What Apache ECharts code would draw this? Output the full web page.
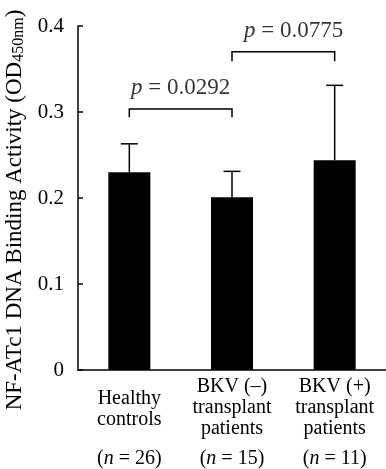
<!DOCTYPE html>
<html>
<head>
<meta charset="utf-8">
<script src="https://cdn.jsdelivr.net/npm/echarts@6/dist/echarts.min.js"></script>
<style>
  html, body { margin: 0; padding: 0; background: #fff; }
  #chart { width: 386px; height: 469px; }
</style>
</head>
<body>
<div id="chart"></div>
<script>
var categories = ['Healthy\ncontrols', 'BKV (\u2013)\ntransplant\npatients', 'BKV (+)\ntransplant\npatients'];
var groupSizes = ['26', '15', '11'];
var means = [0.230, 0.201, 0.244];
var errors = [0.033, 0.030, 0.087];
var yTicks = [0, 0.1, 0.2, 0.3, 0.4];

// significance brackets (category index from / to, bar height, leg end)
var bracketFrom = [0, 1];
var bracketTo = [1, 2];
var bracketTop = [0.3035, 0.370];
var bracketLeg = [0.294, 0.359];
var pValues = ['0.0292', '0.0775'];
var pLabelX = [0.5, 1.6];
var pLabelY = [0.328, 0.394];

var serif = '"Liberation Serif", "Times New Roman", "DejaVu Serif", serif';

function drawChart() {
    var chart = echarts.init(document.getElementById('chart'));

    var errData = means.map(function (m, i) { return [i, m, errors[i]]; });
    var bracketData = bracketFrom.map(function (f, i) {
        return [f, bracketTo[i], bracketTop[i], bracketLeg[i]];
    });
    var pData = pValues.map(function (p, i) { return [pLabelX[i], pLabelY[i], p]; });

    var option = {
        animation: false,
        backgroundColor: '#fff',
        textStyle: { fontFamily: serif, color: '#000' },
        grid: { left: 78, right: 0, top: 26, bottom: 99, containLabel: false, outerBoundsMode: 'none' },
        xAxis: [
            {
                type: 'category',
                data: categories,
                axisLine: { lineStyle: { color: '#000', width: 1.5 } },
                axisTick: { show: false },
                axisLabel: {
                    margin: 6,
                    interval: 0,
                    color: '#000',
                    fontFamily: serif,
                    fontSize: 20,
                    lineHeight: 21,
                    formatter: function (v, i) {
                        var lines = v.split('\n').map(function (s) { return '{a|' + s + '}'; });
                        if (lines.length === 2) lines.unshift('{sp|}');
                        return lines.join('\n');
                    },
                    rich: {
                        a: { fontFamily: serif, fontSize: 20, lineHeight: 21, color: '#000' },
                        sp: { lineHeight: 12, fontSize: 1 }
                    }
                }
            },
            {
                type: 'category',
                data: groupSizes,
                position: 'bottom',
                axisLine: { show: false },
                axisTick: { show: false },
                axisLabel: {
                    margin: 79,
                    interval: 0,
                    formatter: function (v) { return '({i|n} = ' + v + ')'; },
                    rich: {
                        i: { fontFamily: serif, fontStyle: 'italic', fontSize: 20, color: '#000' }
                    },
                    color: '#000',
                    fontFamily: serif,
                    fontSize: 20
                }
            },
            {
                type: 'value',
                min: -0.5,
                max: 2.5,
                show: false
            }
        ],
        yAxis: {
            type: 'value',
            min: 0,
            max: 0.4,
            interval: 0.1,
            name: 'NF-ATc1 DNA Binding Activity (OD{s|450nm})',
            nameLocation: 'middle',
            nameGap: 50,
            nameRotate: 90,
            nameTextStyle: {
                fontFamily: serif,
                fontSize: 23,
                color: '#000',
                padding: [0, 24, 0, 0],
                rich: {
                    s: { fontFamily: serif, fontSize: 16, color: '#000', verticalAlign: 'bottom', padding: [6, 0, 0, 0] }
                }
            },
            axisLine: { show: true, onZero: false, lineStyle: { color: '#000', width: 1.5 } },
            axisTick: { show: true, inside: true, length: 5, lineStyle: { color: '#000', width: 1.5 } },
            splitLine: { show: false },
            axisLabel: {
                margin: 14,
                color: '#000',
                fontFamily: serif,
                fontSize: 21,
                formatter: function (v) { return v === 0 ? '0' : v.toFixed(1); }
            }
        },
        series: [
            {
                type: 'bar',
                data: means,
                barWidth: 42,
                itemStyle: { color: '#000' },
                z: 2
            },
            {
                type: 'custom',
                data: errData,
                z: 3,
                renderItem: function (params, api) {
                    var x = api.value(0);
                    var m = api.value(1);
                    var e = api.value(2);
                    var base = api.coord([x, m]);
                    var top = api.coord([x, m + e]);
                    var style = { stroke: '#000', lineWidth: 1.5 };
                    return {
                        type: 'group',
                        children: [
                            { type: 'line', shape: { x1: base[0], y1: base[1], x2: top[0], y2: top[1] }, style: style },
                            { type: 'line', shape: { x1: top[0] - 8.5, y1: top[1], x2: top[0] + 8.5, y2: top[1] }, style: style }
                        ]
                    };
                }
            },
            {
                type: 'custom',
                xAxisIndex: 2,
                data: bracketData,
                renderItem: function (params, api) {
                    var a = api.coord([api.value(0), api.value(2)]);
                    var b = api.coord([api.value(1), api.value(2)]);
                    var legY = api.coord([api.value(0), api.value(3)])[1];
                    return {
                        type: 'polyline',
                        shape: { points: [[a[0], legY], a, b, [b[0], legY]] },
                        style: { stroke: '#000', lineWidth: 1.5, fill: 'none' }
                    };
                }
            },
            {
                type: 'scatter',
                xAxisIndex: 2,
                data: pData,
                symbolSize: 0,
                label: {
                    show: true,
                    position: 'inside',
                    formatter: function (p) { return '{i|p} = ' + p.data[2]; },
                    fontFamily: serif,
                    fontSize: 23,
                    color: '#000',
                    rich: {
                        i: { fontFamily: serif, fontStyle: 'italic', fontSize: 23, color: '#000' }
                    }
                }
            }
        ]
    };

    chart.setOption(option);
}

drawChart();
</script>
</body>
</html>
